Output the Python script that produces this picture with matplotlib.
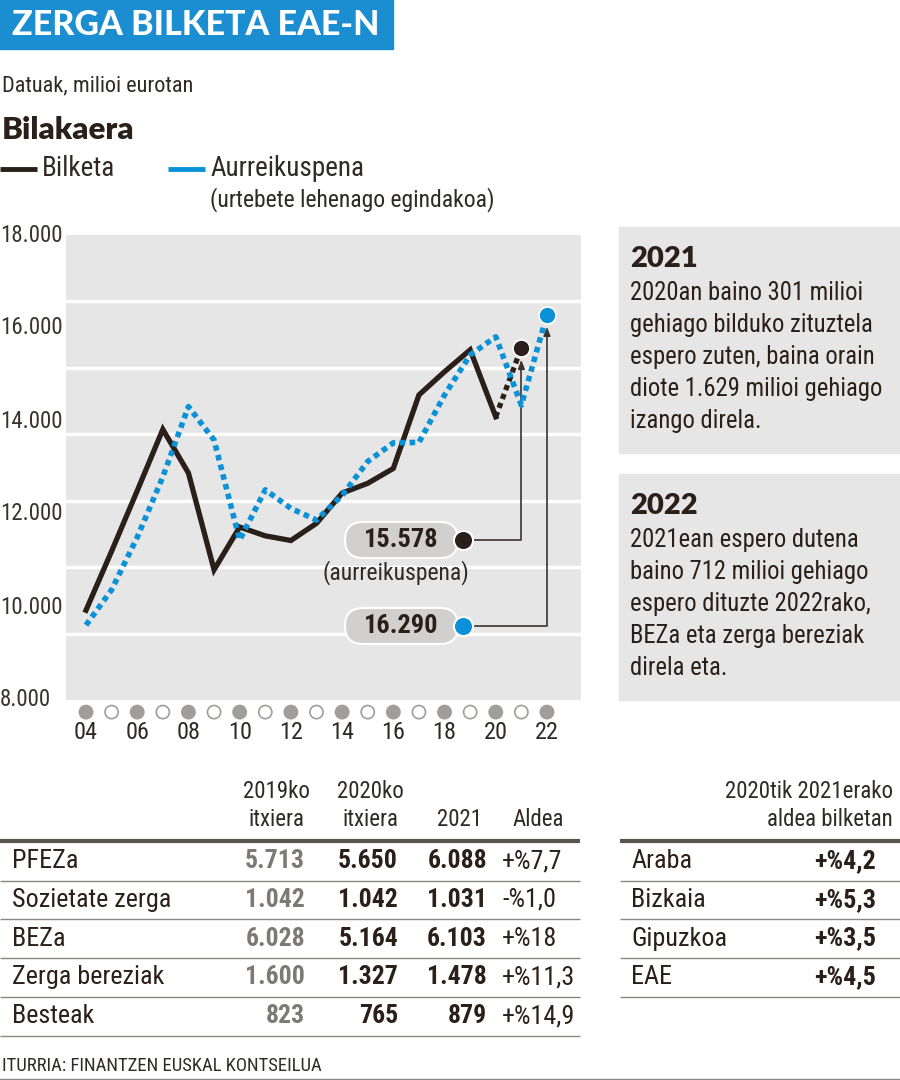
import matplotlib
matplotlib.use("Agg")
import matplotlib.pyplot as plt
from matplotlib import font_manager
from matplotlib.patches import Rectangle, FancyBboxPatch, ConnectionPatch
from matplotlib.transforms import blended_transform_factory

# datuak (milioi eurotan), grafikotik irakurrita
years = list(range(2004, 2023))
bilketa = [9930, 11200, 12500, 13820, 12880, 10800, 11720, 11530, 11430,
           11800, 12450, 12660, 12980, 14560, 15060, 15530, 14090]
bilketa_2021 = 15578
aurreikuspena = [9610, 10370, 11500, 12800, 14310, 13590, 11440, 12520, 12120,
                 11870, 12400, 13130, 13530, 13540, 14560, 15420, 15810, 14340, 16290]
y_ticks = [8000, 10000, 12000, 14000, 16000, 18000]
y_tick_labels = ["8.000", "10.000", "12.000", "14.000", "16.000", "18.000"]

# taula
zergak = ["PFEZa", "Sozietate zerga", "BEZa", "Zerga bereziak", "Besteak"]
itxiera_2019 = ["5.713", "1.042", "6.028", "1.600", "823"]
itxiera_2020 = ["5.650", "1.042", "5.164", "1.327", "765"]
urtea_2021 = ["6.088", "1.031", "6.103", "1.478", "879"]
aldea = ["+%7,7", "-%1,0", "+%18", "+%11,3", "+%14,9"]
lurraldeak = ["Araba", "Bizkaia", "Gipuzkoa", "EAE"]
lurralde_aldea = ["+%4,2", "+%5,3", "+%3,5", "+%4,5"]

BLACK = "#2a1f19"
TXT = "#2f2a27"
BLUE = "#0a91d8"
GREY_BG = "#e6e6e6"
GREY_DOT = "#a09d9b"
RULE = "#8a8784"

available = {f.name for f in font_manager.fontManager.ttflist}


def pick(*cands):
    for c in cands:
        if c in available:
            return c
    return "DejaVu Sans"


COND = pick("Roboto Condensed", "Open Sans Condensed", "Liberation Sans Narrow", "Roboto")
HEAVY = pick("Lato", "Roboto")
plt.rcParams["font.family"] = [COND, "DejaVu Sans"]

fig = plt.figure(figsize=(9, 10.8), dpi=100)

# overlay in pixel coords (y down)
ov = fig.add_axes([0, 0, 1, 1], zorder=3)
ov.set_xlim(0, 900)
ov.set_ylim(1080, 0)
ov.axis("off")

# chart axes
L, T, R, B = 66, 235, 581, 700
ax = fig.add_axes([L / 900, 1 - B / 1080, (R - L) / 900, (B - T) / 1080], zorder=2)
ax.set_facecolor(GREY_BG)
ax.set_xlim(2004 - 20 / 25.6, 2022 + 34 / 25.6)
ax.set_ylim(8000, 18000)
for s in ax.spines.values():
    s.set_visible(False)
ax.set_xticks([])
ax.set_yticks([])
for k in range(1, 7):
    ax.axhline(8000 + k * 10000 / 7, color="white", lw=2.5, zorder=1)

# lines
ax.plot(years[:len(bilketa)], bilketa, color=BLACK, lw=3.8, zorder=3,
        solid_joinstyle="miter")
ax.plot([years[len(bilketa) - 1], 2021], [bilketa[-1], bilketa_2021], color=BLACK,
        lw=3.8, ls=(0, (1, 0.8)), dash_capstyle="butt", zorder=3)
ax.plot(years, aurreikuspena, color=BLUE, lw=4, ls=(0, (1, 0.8)),
        dash_capstyle="butt", zorder=4)
ax.scatter([2021], [bilketa_2021], s=150, color=BLACK, edgecolor="white", lw=1.2, zorder=5)
ax.scatter([2022], [aurreikuspena[-1]], s=150, color=BLUE, edgecolor="white", lw=1.2, zorder=5)

# y labels
ytr = blended_transform_factory(ax.transAxes, ax.transData)
for v, lab in zip(y_ticks, y_tick_labels):
    ax.text(-L / (R - L), v, lab, transform=ytr, ha="left", va="center",
            fontsize=16.5, color="#3a3330", clip_on=False)

# x circles and labels
xtr = blended_transform_factory(ax.transData, ax.transAxes)
ax.scatter(years, [-0.026] * len(years), transform=xtr, clip_on=False, s=90,
           facecolor=[GREY_DOT if y % 2 == 0 else "white" for y in years],
           edgecolor=GREY_DOT, lw=1.2)
for y in years[::2]:
    ax.text(y, -0.069, f"{y % 100:02d}", transform=xtr, ha="center", va="center",
            fontsize=17.5, color=TXT, clip_on=False)

# annotation pills
pills = [("15.578", 540, BLACK, 2021, bilketa_2021),
         ("16.290", 626, BLUE, 2022, aurreikuspena[-1])]
for txt, py, col, yr, val in pills:
    ov.add_patch(FancyBboxPatch((345, py - 18), 113, 36,
                                boxstyle="round,pad=0,rounding_size=18",
                                mutation_aspect=1, fc="#d2d0ce", ec="white", lw=1.5, zorder=3))
    ov.text(401, py, txt, ha="center", va="center", fontsize=19, fontweight="bold",
            color=BLACK, zorder=4)
    ov.scatter([463], [py], s=190, color=col, edgecolor="white", lw=1.5, zorder=5)
    con = ConnectionPatch(xyA=(471, py), coordsA=ov.transData, xyB=(yr, val),
                          coordsB=ax.transData, arrowstyle="-|>,head_length=0.5,head_width=0.2",
                          connectionstyle="angle,angleA=0,angleB=90,rad=0",
                          shrinkA=0, shrinkB=9, color="#3a3330", lw=1.2, mutation_scale=10,
                          zorder=2)
    ax.add_artist(con)
ov.text(396, 573, "(aurreikuspena)", ha="center", va="center", fontsize=17, color=TXT)

# title block
ov.add_patch(Rectangle((0, 0), 393, 49, color="#1b8ed2", zorder=1))
ov.text(12, 25, "ZERGA BILKETA EAE-N", ha="left", va="center", color="white",
        fontsize=24.5, fontweight=900, family=HEAVY, zorder=2)
ov.text(2, 86, "Datuak, milioi eurotan", ha="left", va="center", fontsize=16, color=TXT)
ov.text(2, 130, "Bilakaera", ha="left", va="center", fontsize=22.5, fontweight="heavy",
        family=HEAVY, color=BLACK)

# legend
ov.plot([0, 37], [169, 169], color=BLACK, lw=3.5, solid_capstyle="butt")
ov.text(42, 169, "Bilketa", ha="left", va="center", fontsize=19.5, color=TXT)
ov.plot([168, 205], [169, 169], color=BLUE, lw=3.5, solid_capstyle="butt")
ov.text(210, 169, "Aurreikuspena", ha="left", va="center", fontsize=19.5, color=TXT)
ov.text(210, 200, "(urtebete lehenago egindakoa)", ha="left", va="center", fontsize=17,
        color=TXT)

# right boxes
boxes = [(227, 453, "2021", ["2020an baino 301 milioi", "gehiago bilduko zituztela",
                             "espero zuten, baina orain", "diote 1.629 milioi gehiago",
                             "izango direla."]),
         (474, 700, "2022", ["2021ean espero dutena", "baino 712 milioi gehiago",
                             "espero dituzte 2022rako,", "BEZa eta zerga bereziak",
                             "direla eta."])]
for top, bot, head, lines in boxes:
    ov.add_patch(Rectangle((619, top), 281, bot - top, color=GREY_BG, zorder=1))
    ov.text(630, top + 32, head, ha="left", va="center", fontsize=21, fontweight="heavy",
            family=HEAVY, color=BLACK, zorder=2)
    for i, ln in enumerate(lines):
        ov.text(630, top + 66 + i * 32, ln, ha="left", va="center", fontsize=17.7,
                color=BLACK, zorder=2)

# table headers
hdr = dict(ha="center", va="center", fontsize=16.5, color=TXT)
ov.text(276, 792, "2019ko", **hdr)
ov.text(276, 820, "itxiera", **hdr)
ov.text(370, 792, "2020ko", **hdr)
ov.text(370, 820, "itxiera", **hdr)
ov.text(460, 820, "2021", **hdr)
ov.text(538, 820, "Aldea", **hdr)
ov.text(893, 792, "2020tik 2021erako", ha="right", va="center", fontsize=16.5, color=TXT)
ov.text(893, 820, "aldea bilketan", ha="right", va="center", fontsize=16.5, color=TXT)
ov.plot([0, 580], [841, 841], color="#5b5550", lw=3, solid_capstyle="butt")
ov.plot([620, 900], [841, 841], color="#5b5550", lw=3, solid_capstyle="butt")

row_y0, row_h = 861, 38.8
for i, name in enumerate(zergak):
    yy = row_y0 + i * row_h
    ov.text(12, yy, name, ha="left", va="center", fontsize=18.8, color=BLACK)
    ov.text(305, yy, itxiera_2019[i], ha="right", va="center", fontsize=18.5,
            fontweight="bold", color="#7d7976")
    ov.text(398, yy, itxiera_2020[i], ha="right", va="center", fontsize=18.5,
            fontweight="bold", color=BLACK)
    ov.text(487, yy, urtea_2021[i], ha="right", va="center", fontsize=18.5,
            fontweight="bold", color=BLACK)
    ov.text(502, yy, aldea[i], ha="left", va="center", fontsize=18.8, color=BLACK)
    ov.plot([0, 580], [yy + 19.5, yy + 19.5], color=RULE, lw=1, solid_capstyle="butt")
for i, name in enumerate(lurraldeak):
    yy = row_y0 + i * row_h
    ov.text(631, yy, name, ha="left", va="center", fontsize=18.8, color=BLACK)
    ov.text(876, yy, lurralde_aldea[i], ha="right", va="center", fontsize=18.8,
            fontweight="bold", color=BLACK)
    ov.plot([620, 900], [yy + 19.5, yy + 19.5], color=RULE, lw=1, solid_capstyle="butt")

ov.text(2, 1066, "ITURRIA: FINANTZEN EUSKAL KONTSEILUA", ha="left", va="center",
        fontsize=13.5, color=TXT)
ov.plot([0, 900], [1079, 1079], color=RULE, lw=1)

fig.savefig("out.png", dpi=100)
